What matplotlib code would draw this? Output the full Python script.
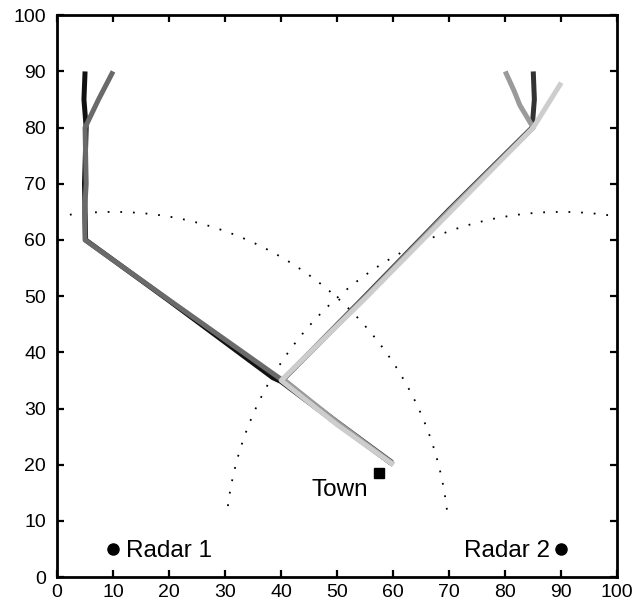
#!/usr/bin/env python3
"""Two-radar tracking scene: estimated target tracks, radar coverage arcs, town."""

import matplotlib

matplotlib.use("Agg")
import matplotlib.pyplot as plt
import numpy as np

# Radar sites and coverage
RADAR_NAMES = ["Radar 1", "Radar 2"]
RADAR_X = [10.0, 90.0]
RADAR_Y = [5.0, 5.0]
RADAR_RANGE = 60.0
# visible part of each coverage circle, degrees
ARC_START = [6.7, 82.0]
ARC_END = [97.7, 174.3]

TOWN_X = 57.5
TOWN_Y = 18.5

# Estimated tracks (waypoints)
TRACK_COLORS = ["#111111", "#6a6a6a", "#333333", "#9a9a9a", "#cdcdcd"]
TRACK_X = [
    [5.0, 4.8, 5.2, 4.9, 5.1, 20.0, 38.5, 40.0, 50.0, 59.6],
    [10.0, 7.4, 5.0, 5.2, 4.9, 5.0, 21.0, 40.0, 50.5, 60.0],
    [85.0, 85.2, 84.8, 70.0, 55.0, 40.2, 50.0, 59.8],
    [80.0, 81.6, 82.6, 85.0, 70.5, 55.5, 40.4, 50.2, 59.9],
    [90.0, 87.5, 85.0, 70.0, 55.0, 40.0, 50.0, 60.0],
]
TRACK_Y = [
    [90.0, 85.0, 80.0, 70.0, 60.0, 49.2, 35.5, 34.8, 27.3, 20.3],
    [90.0, 85.0, 80.0, 70.0, 65.0, 60.0, 48.6, 35.2, 27.0, 20.0],
    [90.0, 85.0, 80.0, 65.4, 50.0, 35.0, 27.6, 20.4],
    [90.0, 86.5, 84.0, 80.0, 65.7, 50.3, 35.2, 27.4, 20.2],
    [88.0, 84.0, 80.0, 64.8, 49.6, 35.0, 27.1, 20.0],
]

TICKS = np.arange(0, 101, 10)

plt.rcParams.update(
    {
        "font.family": ["Liberation Sans", "DejaVu Sans"],
        "font.size": 14,
        "xtick.direction": "in",
        "ytick.direction": "in",
        "xtick.major.size": 5,
        "ytick.major.size": 5,
        "xtick.major.width": 1.6,
        "ytick.major.width": 1.6,
    }
)

fig = plt.figure(figsize=(6.41, 6.10), dpi=100)
ax = fig.add_axes([0.089, 0.054, 0.874, 0.921])

# coverage arcs
for cx, cy, a0, a1 in zip(RADAR_X, RADAR_Y, ARC_START, ARC_END):
    theta = np.radians(np.linspace(a0, a1, 400))
    ax.plot(
        cx + RADAR_RANGE * np.cos(theta),
        cy + RADAR_RANGE * np.sin(theta),
        color="black",
        linewidth=1.3,
        linestyle=(0, (1, 6)),
    )

# tracks
for xs, ys, color in zip(TRACK_X, TRACK_Y, TRACK_COLORS):
    ax.plot(xs, ys, color=color, linewidth=3.6, solid_joinstyle="round",
            solid_capstyle="butt")

# radars and town
ax.plot(RADAR_X, RADAR_Y, "o", color="black", markersize=8)
ax.text(RADAR_X[0] + 2.3, RADAR_Y[0] - 0.4, RADAR_NAMES[0], ha="left",
        va="center", fontsize=17.5)
ax.text(RADAR_X[1] - 2.0, RADAR_Y[1] - 0.4, RADAR_NAMES[1], ha="right",
        va="center", fontsize=17.5)
ax.plot([TOWN_X], [TOWN_Y], "s", color="black", markersize=7)
ax.text(TOWN_X - 2.0, TOWN_Y - 3.0, "Town", ha="right", va="center",
        fontsize=17.5)

ax.set_xlim(0, 100)
ax.set_ylim(0, 100)
ax.set_xticks(TICKS)
ax.set_yticks(TICKS)
ax.tick_params(top=True, right=True)
ax.tick_params(axis="x", pad=5)
ax.tick_params(axis="y", pad=8)
for spine in ax.spines.values():
    spine.set_linewidth(2.0)

fig.savefig("out.png", dpi=100)
